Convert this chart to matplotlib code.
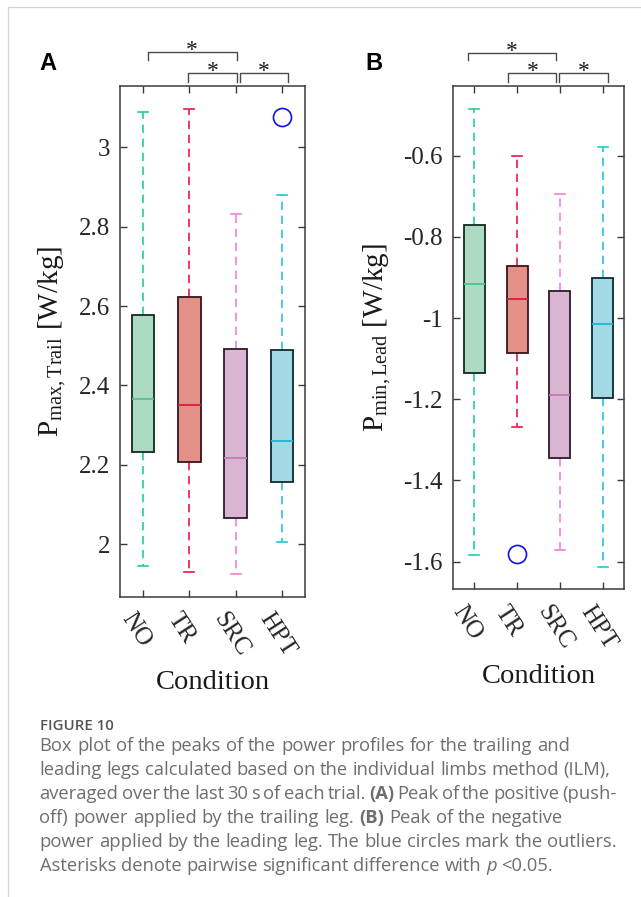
import matplotlib
matplotlib.use("Agg")
import matplotlib.pyplot as plt
import matplotlib.transforms as mtransforms
from matplotlib.lines import Line2D

# ---- data ----
conditions = ["NO", "TR", "SRC", "HPT"]

# A: peak positive power, trailing leg [W/kg]
a_whislo = [1.946, 1.929, 1.924, 2.007]
a_q1 = [2.233, 2.208, 2.067, 2.156]
a_med = [2.367, 2.350, 2.217, 2.260]
a_q3 = [2.578, 2.624, 2.493, 2.490]
a_whishi = [3.090, 3.096, 2.831, 2.879]
a_fliers = [[], [], [], [3.076]]

# B: peak negative power, leading leg [W/kg]
b_whislo = [-1.584, -1.269, -1.572, -1.612]
b_q1 = [-1.135, -1.086, -1.344, -1.196]
b_med = [-0.916, -0.952, -1.189, -1.014]
b_q3 = [-0.771, -0.871, -0.933, -0.901]
b_whishi = [-0.485, -0.601, -0.694, -0.578]
b_fliers = [[], [-1.580], [], []]

a_ticks = [2, 2.2, 2.4, 2.6, 2.8, 3]
a_ticklabels = ["2", "2.2", "2.4", "2.6", "2.8", "3"]
b_ticks = [-1.6, -1.4, -1.2, -1, -0.8, -0.6]
b_ticklabels = ["-1.6", "-1.4", "-1.2", "-1", "-0.8", "-0.6"]

# significance brackets: (x start, x end, row) ; row 0 = upper
a_pairs = [(1.095, 3.02, 0), (1.978, 3.02, 1), (3.084, 4.134, 1)]
b_pairs = [(0.847, 2.916, 0), (1.80, 2.916, 1), (2.977, 4.116, 1)]

fill_col = ['#acdac2', '#e29088', '#d9b4d3', '#a2d9e4']
edge_col = ['#102a20', '#3a1418', '#2a1a28', '#0c2a30']
whisk_col = ['#22d08e', '#e8194b', '#f27fe0', '#22c6dc']
med_col = ['#52c28c', '#d81c44', '#c47ab4', '#1ab6d6']

serif = 'Liberation Serif'
plt.rcParams['mathtext.fontset'] = 'custom'
plt.rcParams['mathtext.rm'] = serif
plt.rcParams['mathtext.it'] = serif + ':italic'

W, H = 641, 897
fig = plt.figure(figsize=(W / 100, H / 100), dpi=100)


def px_axes(l, t, r, b):
    return fig.add_axes([l / W, 1 - b / H, (r - l) / W, (b - t) / H])


def draw_panel(ax, whislo, q1, med, q3, whishi, fliers, ylim, ticks, ticklabels,
               ylabel, pairs, ylab_x, xlab_y):
    stats = []
    for i in range(len(conditions)):
        stats.append(dict(whislo=whislo[i], q1=q1[i], med=med[i], q3=q3[i],
                          whishi=whishi[i], fliers=fliers[i]))
    bp = ax.bxp(stats, positions=range(1, len(conditions) + 1), widths=0.49,
                capwidths=0.22, patch_artist=True, manage_ticks=False)
    for i in range(len(conditions)):
        bp['boxes'][i].set(facecolor=fill_col[i], edgecolor=edge_col[i], lw=1.3, zorder=3)
        for w in bp['whiskers'][2 * i:2 * i + 2]:
            w.set(color=whisk_col[i], lw=1.2, linestyle=(0, (5, 3.4)), zorder=2)
        for c in bp['caps'][2 * i:2 * i + 2]:
            c.set(color=whisk_col[i], lw=1.2)
        bp['medians'][i].set(color=med_col[i], lw=1.3, zorder=4)
        bp['fliers'][i].set(marker='o', markersize=13, markerfacecolor='none',
                            markeredgecolor='#1010ee', markeredgewidth=1.2)

    ax.set_xlim(0.5, 4.5)
    ax.set_ylim(*ylim)
    ax.set_yticks(ticks)
    ax.set_yticklabels(ticklabels, fontsize=18, family=serif, color='#262626')
    ax.set_xticks(range(1, len(conditions) + 1))
    ax.tick_params(direction='in', top=True, right=True, length=5, width=1,
                   color='#3a3a3a')
    ax.tick_params(axis='y', pad=7)
    ax.tick_params(axis='x', pad=9)
    ax.set_xticklabels(conditions, fontsize=18, family=serif, color='#262626',
                       rotation=-57, ha='left', va='top', rotation_mode='anchor')
    # nudge the slanted labels a little to the left (after tick_params, which resets them)
    shift = mtransforms.ScaledTranslation(-0.08, 0, fig.dpi_scale_trans)
    for tk in ax.xaxis.get_major_ticks():
        tk.label1.set_transform(tk.label1.get_transform() + shift)
    for s in ax.spines.values():
        s.set_color('#3a3a3a')
        s.set_linewidth(1.1)

    ax.set_ylabel(ylabel, fontsize=21, family=serif, color='#1a1a1a')
    ax.yaxis.set_label_coords(ylab_x, 0.5)
    ax.set_xlabel('Condition', fontsize=20.5, family=serif, color='#1a1a1a')
    ax.xaxis.set_label_coords(0.5, xlab_y)
    ax.xaxis.label.set_va('top')

    trans = mtransforms.blended_transform_factory(ax.transData, ax.transAxes)
    rows = [(1.0650, 1.0505, 1.0575), (1.0244, 1.0080, 1.0165)]
    for x0, x1, r in pairs:
        ytop, ybot, ystar = rows[r]
        ax.add_line(Line2D([x0, x0, x1, x1], [ybot, ytop, ytop, ybot], transform=trans,
                           color='#4a4a4a', lw=1.0, clip_on=False))
        ax.text((x0 + x1) / 2, ystar, '*', transform=trans, ha='center', va='baseline',
                fontsize=17, family=serif, color='#1a1a1a')


ax_a = px_axes(120, 85.7, 305, 596.7)
draw_panel(ax_a, a_whislo, a_q1, a_med, a_q3, a_whishi, a_fliers, (1.868, 3.155),
           a_ticks, a_ticklabels, r'$\mathrm{P}_{\mathrm{max,Trail}}$ [W/kg]', a_pairs,
           -0.281, -0.143)

ax_b = px_axes(452.7, 85.7, 624.3, 589.3)
draw_panel(ax_b, b_whislo, b_q1, b_med, b_q3, b_whishi, b_fliers, (-1.668, -0.4276),
           b_ticks, b_ticklabels, r'$\mathrm{P}_{\mathrm{min,Lead}}$ [W/kg]', b_pairs,
           -0.346, -0.148)

fig.text(39 / W, 1 - 70 / H, 'A', fontsize=17, fontweight='bold',
         family='Liberation Sans', va='baseline')
fig.text(365 / W, 1 - 70 / H, 'B', fontsize=17, fontweight='bold',
         family='Liberation Sans', va='baseline')

# page frame lines
fig.add_artist(Line2D([7.5 / W, 7.5 / W], [0, 1 - 7.5 / H], color='#d4d4d4', lw=0.9))
fig.add_artist(Line2D([7.5 / W, 1], [1 - 7.5 / H, 1 - 7.5 / H], color='#d4d4d4', lw=0.9))

# ---- caption ----
cap_font = 'Open Sans'
cap_color = '#6e6e6e'
renderer = fig.canvas.get_renderer()
caption_lines = [
    [("Box plot of the peaks of the power profiles for the trailing and", 'normal', 'normal')],
    [("leading legs calculated based on the individual limbs method (ILM),", 'normal', 'normal')],
    [("averaged over the last 30 s of each trial.", 'normal', 'normal'), ("(A)", 'bold', 'normal'),
     ("Peak of the positive (push-", 'normal', 'normal')],
    [("off) power applied by the trailing leg.", 'normal', 'normal'), ("(B)", 'bold', 'normal'),
     ("Peak of the negative", 'normal', 'normal')],
    [("power applied by the leading leg. The blue circles mark the outliers.", 'normal', 'normal')],
    [("Asterisks denote pairwise significant difference with", 'normal', 'normal'),
     ("p", 'normal', 'italic'), ("<0.05.", 'normal', 'normal')],
]
# right edge of each caption line in the source (px)
line_right = [570, 610, 617, 563, 617, 553]

# pick the caption size so that the second line spans the same width as in the source
probe = fig.text(0, 0, caption_lines[1][0][0], fontsize=10, family=cap_font)
pw = probe.get_window_extent(renderer).width
probe.remove()
cap_size = 10 * 571 / pw

x0 = 39.5
base = 750.7
for k, segs in enumerate(caption_lines):
    words = []
    for txt, wt, st in segs:
        for w in txt.split(' '):
            words.append((w, wt, st))
    arts = []
    total = 0
    for w, wt, st in words:
        t = fig.text(0, 1 - (base + k * 24.0) / H, w, fontsize=cap_size, family=cap_font,
                     fontweight=wt, fontstyle=st, color=cap_color, va='baseline')
        wd = t.get_window_extent(renderer).width
        arts.append((t, wd))
        total += wd
    gap = (line_right[k] - x0 - total) / (len(words) - 1)
    x = x0
    for t, wd in arts:
        t.set_x(x / W)
        x += wd + gap

fig.text(39.5 / W, 1 - 730 / H, 'FIGURE 10', fontsize=cap_size * 0.82, family=cap_font,
         fontweight='semibold', color='#555555', va='baseline')

fig.savefig('out.png', dpi=100)
